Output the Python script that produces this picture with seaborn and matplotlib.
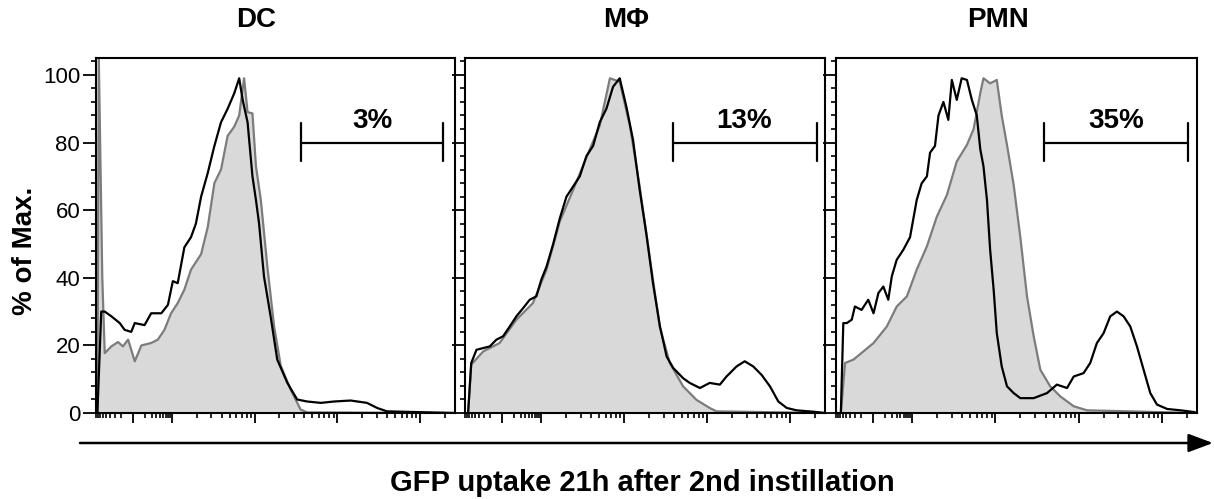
import numpy as np
import matplotlib
matplotlib.use("Agg")
import matplotlib.pyplot as plt
import seaborn as sns

# cell populations and gate results
panels = ["DC", "M\u03a6", "PMN"]
gate_pct = ["3%", "13%", "35%"]
gate_lo = [582, 589, 589]
gate_hi = [991, 1000, 998]

# histograms: fluorescence channel (0-1024) vs % of max
# DC, control (grey filled)
dc_ctrl_x = [0, 4, 14, 21, 40, 59, 73, 88, 107, 126, 154, 173, 192, 211, 230, 249, 268, 297,
             316, 335, 354, 373, 392, 406, 420, 430, 444, 454, 468, 487, 506, 525, 553, 582, 601, 1024]
dc_ctrl_y = [0, 105, 40, 17.7, 19.7, 21, 19.7, 21.7, 15.3, 20, 20.7, 21.7, 24.6, 29.5, 32.5, 36.5,
             42.4, 47, 55, 68, 72, 82, 84.7, 88, 99, 89, 88.6, 73, 63, 43, 25.6, 14, 7, 1, 0.2, 0]
# DC, GFP (black line)
dc_gfp_x = [0, 11, 21, 40, 64, 78, 97, 107, 135, 154, 183, 202, 216, 230, 249, 268, 282, 297, 316,
            335, 354, 373, 392, 406, 416, 430, 444, 454, 463, 477, 496, 515, 544, 572, 601, 640,
            677, 725, 772, 801, 829, 1024]
dc_gfp_y = [0, 30, 30, 28.6, 26.6, 24.6, 24, 26.6, 26, 29.5, 29.5, 32, 39, 38.4, 49, 52, 56, 64, 71,
            79, 86, 90, 94.6, 99, 92.6, 86, 70, 63, 56, 40.4, 28.6, 15.8, 8.9, 4, 3.4, 3.0,
            3.4, 3.7, 3, 1.5, 0.5, 0]

# MPhi, control
mp_ctrl_x = [5, 14, 48, 95, 143, 190, 229, 267, 305, 343, 381, 410, 438, 467, 495, 524, 552, 581,
             619, 657, 695, 714, 1024]
mp_ctrl_y = [0, 14.3, 18.2, 20.7, 27.6, 32.5, 42.4, 56.7, 66, 75.6, 85, 99, 98, 85, 67, 46, 25.6,
             14.8, 7.9, 3.9, 1.5, 0.5, 0]
# MPhi, GFP
mp_gfp_x = [5, 14, 29, 48, 67, 86, 105, 124, 143, 162, 181, 200, 214, 229, 248, 267, 286, 305, 324,
            343, 362, 381, 400, 419, 438, 457, 476, 495, 514, 533, 553, 572, 591, 619, 638, 667,
            695, 724, 743, 772, 795, 819, 843, 867, 891, 915, 943, 1000, 1024]
mp_gfp_y = [0, 14.8, 18.7, 19.2, 19.7, 21.7, 22.7, 25.6, 28.6, 31, 33.5, 34.5, 39.4, 43.3, 50,
            57.6, 64, 67, 70, 76, 79, 86, 90, 96.5, 99, 90.6, 80.8, 66, 53, 38.4, 25.6, 16.7,
            13.3, 10.3, 8.9, 7.4, 8.9, 8.4, 10.8, 13.8, 15.3, 13.8, 11.3, 7.9, 3.4, 1.5, 0.8, 0.3, 0]

# PMN, control
pmn_ctrl_x = [10, 22, 46, 74, 103, 141, 169, 198, 226, 255, 283, 312, 340, 369, 388, 407, 416, 435,
              454, 468, 483, 502, 521, 540, 559, 578, 606, 635, 673, 711, 1024]
pmn_ctrl_y = [0, 14.8, 15.8, 18.2, 20.7, 25.6, 31.5, 34.5, 42.4, 49.3, 58, 64.5, 74.4, 79.3, 84,
              94.6, 99, 97.5, 98.5, 88, 79.3, 67.5, 52, 34.5, 22.7, 12.8, 7.9, 4.9, 2, 0.8, 0]
# PMN, GFP
pmn_gfp_x = [10, 17, 27, 41, 50, 69, 88, 103, 117, 131, 145, 155, 169, 188, 207, 226, 240, 255, 264,
             278, 288, 302, 316, 326, 340, 354, 369, 383, 397, 407, 416, 426, 435, 445, 454, 468,
             483, 502, 521, 559, 597, 625, 654, 673, 701, 720, 739, 758, 777, 796, 815, 834, 853,
             872, 891, 910, 939, 977, 1015, 1024]
pmn_gfp_y = [0, 26.6, 26.6, 27.6, 31.5, 30.5, 33.5, 29.5, 35.5, 37.4, 33.5, 40.4, 45.3, 48.3, 52,
             63, 67.9, 70, 77, 79, 88, 92, 86.7, 98.5, 92.6, 99, 98.5, 92.6, 88, 78, 73, 63, 48.3,
             36.5, 23.6, 13.8, 7.9, 5.9, 4.4, 4.4, 5.9, 8.4, 7.4, 10.8, 11.8, 14.8, 20.7, 23.6,
             28.6, 30, 28.6, 25.6, 19.7, 12.8, 5.9, 2.5, 1.2, 0.8, 0.3, 0]

ctrl_x = [dc_ctrl_x, mp_ctrl_x, pmn_ctrl_x]
ctrl_y = [dc_ctrl_y, mp_ctrl_y, pmn_ctrl_y]
gfp_x = [dc_gfp_x, mp_gfp_x, pmn_gfp_x]
gfp_y = [dc_gfp_y, mp_gfp_y, pmn_gfp_y]

sns.set_style("ticks")
plt.rcParams["font.family"] = ["Liberation Sans", "DejaVu Sans"]
plt.rcParams["axes.linewidth"] = 1.5
plt.rcParams["text.color"] = "black"
plt.rcParams["xtick.color"] = "black"
plt.rcParams["ytick.color"] = "black"
plt.rcParams["axes.edgecolor"] = "black"

# biexponential-like tick layout (no labels on the x axis)
zero, d1 = 102, 213
dec = 237
logk = np.log10(np.arange(2, 10))
x_major = [zero, d1, d1 + dec, d1 + 2 * dec, d1 + 3 * dec]
x_minor = list(zero - logk * (d1 - zero)) + list(zero + logk * (d1 - zero))
for m in x_major[1:]:
    x_minor += [v for v in m + logk * dec if v < 1024]

fig = plt.figure(figsize=(12.14, 4.99), dpi=100)
lefts = [0.0791, 0.3830, 0.6886]
widths = [0.2957, 0.2965, 0.2974]

for i in range(3):
    ax = fig.add_axes([lefts[i], 0.1723, widths[i], 0.7115])
    ax.fill_between(ctrl_x[i], ctrl_y[i], color="#d9d9d9", lw=0)
    sns.lineplot(x=ctrl_x[i], y=ctrl_y[i], ax=ax, color="#7c7c7c", lw=1.6,
                 sort=False, estimator=None)
    sns.lineplot(x=gfp_x[i], y=gfp_y[i], ax=ax, color="black", lw=1.6,
                 sort=False, estimator=None)

    # positive gate
    lo, hi = gate_lo[i], gate_hi[i]
    ax.plot([lo, hi], [80, 80], color="black", lw=1.6)
    ax.plot([lo, lo], [74.4, 85.7], color="black", lw=1.6)
    ax.plot([hi, hi], [74.4, 85.7], color="black", lw=1.6)
    ax.text((lo + hi) / 2, 84.3, gate_pct[i], ha="center", va="baseline",
            fontsize=20, fontweight="bold", color="black")

    ax.set_xlim(0, 1024)
    ax.set_ylim(0, 105)
    ax.set_xticks(x_major)
    ax.set_xticks(x_minor, minor=True)
    ax.set_xticklabels([])
    ax.set_yticks(range(0, 101, 20))
    ax.set_yticks([v for v in range(0, 105, 4) if v % 20], minor=True)
    ax.tick_params(axis="x", which="major", length=7, width=1.3, direction="out")
    ax.tick_params(axis="x", which="minor", length=3.6, width=1.2, direction="out")
    ax.tick_params(axis="y", which="major", length=9.4, width=1.3, direction="out",
                   labelsize=16, pad=2, labelcolor="black")
    ax.tick_params(axis="y", which="minor", length=3.6, width=1.2, direction="out")
    if i > 0:
        ax.tick_params(axis="y", labelleft=False)
    ax.set_xlabel("")
    ax.set_ylabel("")
    for s in ax.spines.values():
        s.set_linewidth(1.5)
        s.set_color("black")

title_x = [0.2109, 0.5157, 0.8217]
for i in range(3):
    fig.text(title_x[i], 0.96, panels[i], ha="center", va="center",
             fontsize=20, fontweight="bold", color="black")

fig.text(25 / 1214, 1 - 251 / 499, "% of Max.", rotation=90, ha="center", va="center",
         fontsize=20, fontweight="bold", color="black")

y_arrow = 1 - 443 / 499
fig.add_artist(matplotlib.patches.FancyArrowPatch(
    (80 / 1214, y_arrow), (1213 / 1214, y_arrow), transform=fig.transFigure,
    arrowstyle="-|>,head_length=0.75,head_width=0.28", mutation_scale=20,
    lw=1.8, color="black", shrinkA=0, shrinkB=0))

fig.text(642 / 1214, 1 - 483 / 499, "GFP uptake 21h after 2nd instillation",
         ha="center", va="center", fontsize=21, fontweight="bold", color="black")

fig.savefig("out.png", dpi=100)
